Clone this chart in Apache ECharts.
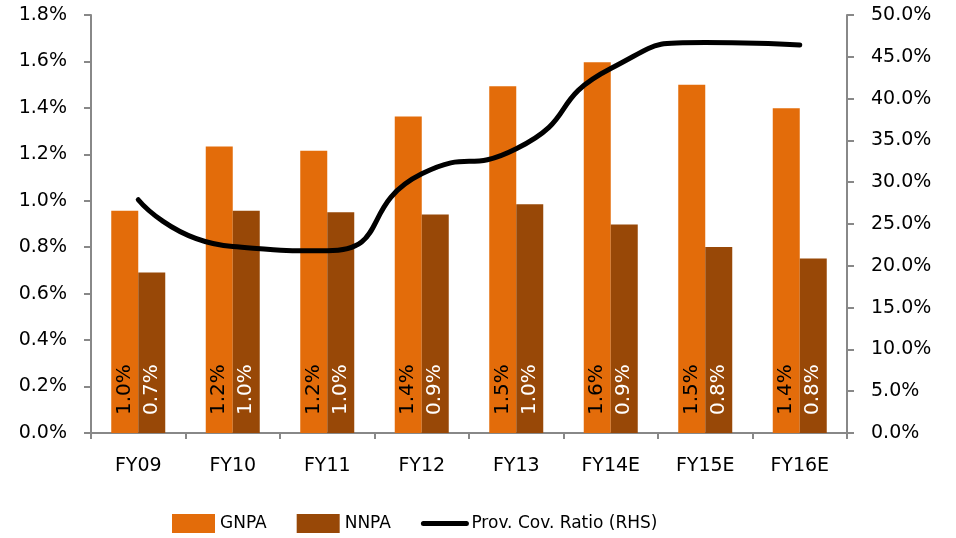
<!DOCTYPE html>
<html>
<head>
<meta charset="utf-8">
<script src="https://cdn.jsdelivr.net/npm/echarts@6/dist/echarts.min.js"></script>
<style>
  html, body { margin: 0; padding: 0; background: #fff; }
  #chart { width: 956px; height: 538px; }
</style>
</head>
<body>
<div id="chart"></div>
<script>
// Fiscal years
const categories = ['FY09', 'FY10', 'FY11', 'FY12', 'FY13', 'FY14E', 'FY15E', 'FY16E'];
// Gross and net NPA, % of advances (left axis)
const gnpa = [0.957, 1.234, 1.215, 1.363, 1.493, 1.596, 1.500, 1.398];
const nnpa = [0.691, 0.957, 0.951, 0.941, 0.985, 0.898, 0.801, 0.751];
// Provision coverage ratio, % (right axis)
const provCov = [27.9, 22.3, 21.8, 31.0, 34.0, 43.6, 46.7, 46.4];

const axisGrey = '#888888';
const font = 'DejaVu Sans';

const chart = echarts.init(document.getElementById('chart'), null, { renderer: 'canvas' });

const barLabel = (color) => ({
  show: true,
  position: 'insideBottom',
  distance: 18,
  rotate: 90,
  align: 'left',
  verticalAlign: 'middle',
  color: color,
  fontFamily: font,
  fontSize: 20,
  formatter: (p) => p.value.toFixed(1) + '%'
});

chart.setOption({
  animation: false,
  backgroundColor: '#ffffff',
  grid: { left: 91, right: 109, top: 15, bottom: 105, containLabel: false },
  legend: {
    left: 167,
    top: 509,
    itemWidth: 43,
    itemHeight: 19,
    itemGap: 30,
    textStyle: { fontFamily: font, fontSize: 17, color: '#000' },
    data: [
      { name: 'GNPA', icon: 'rect' },
      { name: 'NNPA', icon: 'rect' },
      { name: 'Prov. Cov. Ratio (RHS)', itemStyle: { opacity: 0 },
        lineStyle: { width: 5, color: '#000000', cap: 'round' } }
    ]
  },
  xAxis: {
    type: 'category',
    data: categories,
    axisLine: { lineStyle: { color: axisGrey, width: 2 } },
    axisTick: { show: true, length: 6, lineStyle: { color: axisGrey, width: 2 } },
    axisLabel: { color: '#000', fontFamily: font, fontSize: 19, margin: 24 }
  },
  yAxis: [
    {
      type: 'value',
      min: 0, max: 1.8, interval: 0.2,
      axisLine: { show: true, lineStyle: { color: axisGrey, width: 2 } },
      axisTick: { show: true, length: 7, lineStyle: { color: axisGrey, width: 2 } },
      splitLine: { show: false },
      axisLabel: { color: '#000', fontFamily: font, fontSize: 19, margin: 24,
        formatter: (v) => v.toFixed(1) + '%' }
    },
    {
      type: 'value',
      min: 0, max: 50, interval: 5,
      position: 'right',
      axisLine: { show: true, lineStyle: { color: axisGrey, width: 2 } },
      axisTick: { show: true, length: 7, lineStyle: { color: axisGrey, width: 2 } },
      splitLine: { show: false },
      axisLabel: { color: '#000', fontFamily: font, fontSize: 19, margin: 24,
        formatter: (v) => v.toFixed(1) + '%' }
    }
  ],
  series: [
    {
      name: 'GNPA',
      type: 'bar',
      data: gnpa,
      barWidth: 27,
      barGap: '0%',
      itemStyle: { color: '#E36C0A' },
      label: barLabel('#000000')
    },
    {
      name: 'NNPA',
      type: 'bar',
      data: nnpa,
      barWidth: 27,
      barGap: '0%',
      itemStyle: { color: '#984807' },
      label: barLabel('#ffffff')
    },
    {
      name: 'Prov. Cov. Ratio (RHS)',
      type: 'line',
      yAxisIndex: 1,
      data: provCov,
      smooth: 0.6,
      symbol: 'none',
      lineStyle: { color: '#000000', width: 5, cap: 'round' },
      itemStyle: { color: '#000000' },
      z: 5
    }
  ]
});
</script>
</body>
</html>
